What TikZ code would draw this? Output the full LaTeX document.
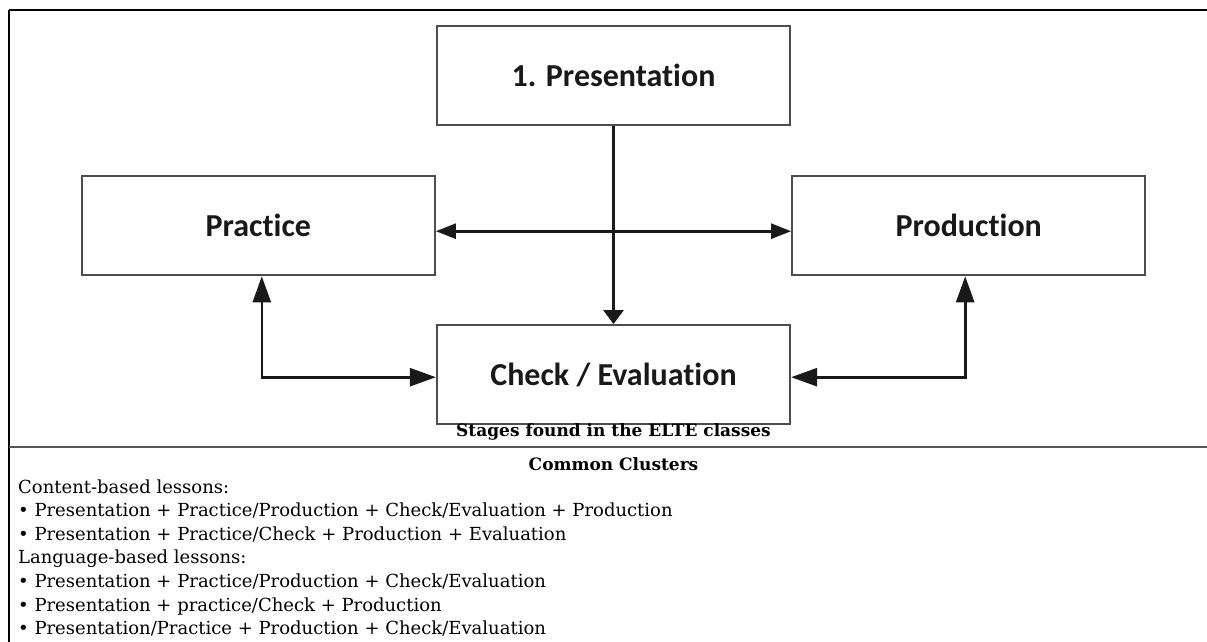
\documentclass[tikz,border=0pt]{standalone}
\usepackage{fontspec}
\setmainfont{DejaVu Serif}
\newfontfamily\stagefont{Carlito}[Ligatures=NoCommon]
\usetikzlibrary{arrows.meta,positioning}
\definecolor{boxline}{HTML}{4D4D4D}
\definecolor{rulegray}{HTML}{555555}

\begin{document}
\begin{tikzpicture}[x=1pt, y=-1pt,
  stage/.style={draw=boxline, line width=2.2pt, fill=white, inner sep=0pt,
    minimum width=353pt, minimum height=99pt, text=black!90,
    font={\stagefont\bfseries\fontsize{32pt}{36pt}\selectfont}},
  caption/.style={inner sep=0pt, font={\bfseries\fontsize{17pt}{20pt}\selectfont}},
  rowtext/.style={anchor=base west, inner sep=0pt, font={\fontsize{18pt}{22pt}\selectfont}},
  flow/.style={-{Triangle[length=14pt,width=20pt]}, draw=black!90, line width=2.6pt},
  exchange/.style={{Triangle[length=20pt,width=15pt]}-{Triangle[length=20pt,width=15pt]},
    draw=black!90, line width=2.6pt},
  review/.style={{Triangle[length=26pt,width=18pt]}-{Triangle[length=26pt,width=18pt]},
    draw=black!90, line width=2.6pt}
]
\useasboundingbox (0,0) rectangle (1207,642);

% table rules
\draw[line width=2.4pt] (9,10) -- (1207,10);
\draw[line width=1.8pt] (9,10) -- (9,642);
\draw[draw=rulegray, line width=2.6pt] (9,447) -- (1207,447);

% stages
\node[stage] (pres) at (613.5,75.5) {1. Presentation};
\node[stage, below left=49pt and 0pt of pres.south west] (practice) {Practice};
\node[stage, below right=49pt and 0pt of pres.south east] (production) {Production};
\node[stage, below=198pt of pres] (check) {Check / Evaluation};

\draw[flow] (pres) -- (check);
\draw[exchange] ([yshift=-5.5pt]practice.east) -- ([yshift=-5.5pt]production.west);
\draw[review] ([xshift=3.5pt]practice.south) |- ([yshift=-2.5pt]check.west);
\draw[review] ([xshift=-3.5pt]production.south) |- ([yshift=-2.5pt]check.east);

% captions and clusters
\node[caption] (stages) at (613.5,432) {Stages found in the ELTE classes};
\node[caption] (clusters) at (613.5,464) {Common Clusters};

\node[rowtext] (content) at (18,493) {Content-based lessons:};
\node[rowtext] (content1) at ([yshift=-23.6pt]content.base west) {• Presentation + Practice/Production + Check/Evaluation + Production};
\node[rowtext] (content2) at ([yshift=-23.6pt]content1.base west) {• Presentation + Practice/Check + Production + Evaluation};
\node[rowtext] (language) at ([yshift=-23.6pt]content2.base west) {Language-based lessons:};
\node[rowtext] (language1) at ([yshift=-23.6pt]language.base west) {• Presentation + Practice/Production + Check/Evaluation};
\node[rowtext] (language2) at ([yshift=-23.6pt]language1.base west) {• Presentation + practice/Check + Production};
\node[rowtext] (language3) at ([yshift=-23.6pt]language2.base west) {• Presentation/Practice + Production + Check/Evaluation};
\end{tikzpicture}
\end{document}
